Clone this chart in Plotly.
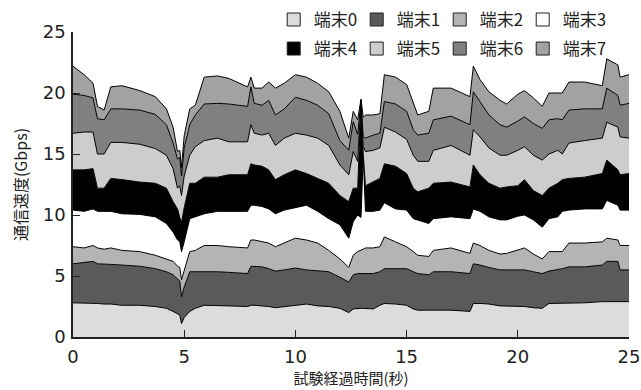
import plotly.graph_objects as go

# time (s)
t_sec = [0.0, 0.5, 0.9, 1.1, 1.4, 1.7, 2.2, 3.0, 3.7, 4.2, 4.5, 4.7, 4.8, 4.88, 5.0, 5.25, 5.5,
         5.9, 6.5, 7.0, 7.85, 8.0, 8.15, 8.5, 8.8, 9.1, 9.5, 10.0, 10.5, 11.0, 11.5, 12.0,
         12.4, 12.6, 12.8, 12.95, 13.05, 13.15, 13.5, 13.8, 14.0, 14.5, 15.0, 15.3, 15.5,
         16.0, 16.2, 17.0, 17.85, 18.0, 18.3, 18.7, 19.2, 19.5, 20.0, 20.3, 20.7, 21.1,
         21.4, 21.8, 22.0, 22.3, 23.0, 23.8, 24.0, 24.5, 24.6, 25.0]

term0 = [2.8, 2.8, 2.8, 2.75, 2.7, 2.7, 2.6, 2.6, 2.5, 2.35, 2.1, 1.9, 1.8, 1.1, 1.6, 2.1, 2.35,
         2.6, 2.6, 2.55, 2.5, 2.6, 2.6, 2.55, 2.5, 2.4, 2.5, 2.6, 2.7, 2.55, 2.5, 2.35,
         2.0, 2.3, 2.35, 2.35, 2.35, 2.35, 2.3, 2.6, 2.75, 2.7, 2.6, 2.3, 2.2,
         2.2, 2.2, 2.2, 2.1, 2.75, 2.75, 2.7, 2.55, 2.55, 2.5, 2.5, 2.4, 2.35,
         2.75, 2.75, 2.75, 2.75, 2.8, 2.9, 2.9, 2.9, 2.9, 2.9]
term1 = [3.2, 3.3, 3.4, 3.25, 3.25, 3.25, 3.3, 3.2, 3.1, 3.0, 3.0, 2.9, 2.8, 2.2, 2.5, 3.25, 3.0,
         2.8, 2.75, 2.75, 2.7, 3.2, 3.2, 3.2, 3.1, 3.0, 3.0, 3.05, 2.8, 2.85, 2.85, 2.55,
         2.5, 2.8, 2.85, 2.85, 2.85, 2.85, 2.9, 2.75, 2.85, 2.9, 3.0, 3.05, 3.0,
         2.9, 3.15, 3.15, 3.1, 3.25, 3.15, 3.0, 2.95, 2.95, 3.0, 3.0, 2.95, 2.85,
         2.65, 2.75, 2.85, 3.0, 2.95, 3.0, 3.3, 3.3, 2.6, 2.6]
term2 = [1.4, 1.2, 1.3, 1.3, 1.25, 1.35, 1.2, 1.2, 1.1, 1.05, 1.1, 1.0, 1.1, 1.4, 1.3, 1.65, 1.75,
         2.1, 2.15, 2.1, 2.1, 2.15, 2.15, 2.05, 2.1, 2.0, 2.2, 2.45, 2.45, 2.3, 1.75, 1.5,
         1.2, 1.6, 1.8, 1.9, 2.0, 2.1, 2.1, 2.05, 2.6, 2.2, 1.8, 1.65, 1.5,
         1.5, 1.75, 1.95, 1.65, 1.7, 1.6, 1.4, 1.3, 1.35, 1.6, 1.8, 1.45, 1.2,
         1.6, 1.5, 1.4, 1.95, 1.95, 1.9, 1.9, 1.75, 2.0, 2.0]
term3 = [3.0, 3.0, 3.0, 3.0, 3.1, 3.0, 3.0, 3.05, 3.15, 2.9, 2.4, 2.15, 2.1, 2.3, 2.4, 2.7, 2.75,
         2.6, 2.8, 2.9, 3.0, 2.85, 2.85, 2.9, 2.8, 2.7, 2.7, 2.5, 2.85, 2.6, 2.6, 2.8,
         2.4, 2.75, 3.0, 2.7, 7.6, 3.0, 3.0, 3.0, 2.8, 2.7, 3.0, 2.7, 2.9,
         2.7, 2.6, 2.55, 2.85, 2.8, 2.8, 2.75, 2.8, 2.75, 2.8, 2.7, 2.8, 2.6,
         2.7, 2.85, 3.3, 2.7, 2.8, 2.7, 3.1, 2.85, 2.9, 2.9]
term4 = [3.3, 3.4, 3.3, 1.9, 1.9, 2.7, 2.8, 2.65, 2.75, 2.9, 2.5, 2.55, 2.0, 2.4, 2.8, 2.9, 2.75,
         3.0, 2.8, 3.0, 3.0, 3.4, 3.3, 3.3, 3.2, 2.8, 2.9, 3.1, 2.6, 2.7, 2.9, 2.4,
         3.0, 2.75, 2.2, 9.4, 0.2, 2.1, 2.4, 2.6, 3.2, 3.5, 3.0, 2.5, 2.3,
         2.9, 2.9, 2.85, 2.6, 3.6, 3.0, 2.75, 2.6, 2.7, 2.5, 2.9, 2.4, 2.6,
         2.5, 2.75, 2.6, 2.6, 2.6, 2.9, 3.3, 2.9, 2.9, 3.0]
term5 = [3.0, 3.1, 3.0, 2.8, 2.8, 2.95, 3.05, 3.1, 2.85, 2.7, 2.7, 1.7, 2.6, 2.2, 2.6, 2.3, 3.0,
         3.0, 3.2, 2.7, 2.7, 3.2, 2.6, 2.55, 3.0, 2.8, 3.0, 3.0, 3.15, 3.3, 3.1, 2.5,
         2.2, 3.0, 2.2, 0.1, 0.6, 2.8, 2.6, 2.5, 3.0, 2.8, 2.8, 2.7, 2.5,
         2.2, 2.7, 3.0, 2.6, 2.9, 3.1, 2.9, 2.7, 2.6, 2.9, 2.7, 2.9, 2.9,
         2.8, 2.7, 2.1, 2.9, 3.0, 2.9, 3.1, 3.5, 3.1, 2.9]
term6 = [3.2, 3.0, 2.8, 2.9, 2.8, 2.75, 2.75, 2.8, 2.8, 2.5, 2.1, 2.4, 2.3, 1.6, 2.3, 2.5, 2.6,
         3.0, 2.85, 3.1, 2.9, 3.1, 2.45, 2.45, 2.7, 2.5, 2.4, 2.95, 2.85, 2.7, 2.6, 2.0,
         2.0, 2.45, 2.2, 0.1, 0.8, 1.1, 1.25, 1.2, 2.1, 2.3, 2.3, 2.1, 2.15,
         2.3, 2.5, 2.4, 2.5, 3.1, 2.9, 2.7, 2.5, 2.3, 2.4, 2.45, 2.6, 2.6,
         2.8, 2.6, 2.8, 2.7, 2.6, 2.4, 2.8, 2.6, 2.6, 2.85]
term7 = [2.3, 1.7, 1.2, 1.0, 0.8, 1.8, 1.9, 1.6, 1.45, 1.3, 1.3, 0.6, 0.6, 0.7, 1.0, 1.3, 0.8,
         2.2, 2.25, 2.1, 1.6, 0.8, 1.25, 1.4, 1.5, 2.2, 2.1, 1.85, 1.9, 1.8, 1.8, 2.4,
         1.0, 0.85, 1.2, 0.1, 1.6, 1.9, 1.65, 1.6, 2.2, 2.2, 2.2, 2.3, 1.65,
         1.8, 2.6, 2.3, 2.3, 2.1, 1.8, 1.9, 2.0, 1.9, 2.2, 2.15, 2.1, 1.8,
         2.2, 2.1, 2.2, 2.3, 2.2, 1.9, 2.4, 2.5, 2.3, 2.35]

series_names = ["端末0", "端末1", "端末2", "端末3", "端末4", "端末5", "端末6", "端末7"]
series_colors = ["#dcdcdc", "#5a5a5a", "#b4b4b4", "#ffffff", "#000000", "#cdcdcd", "#808080", "#a2a2a2"]
series_values = [term0, term1, term2, term3, term4, term5, term6, term7]

x_ticks = [0, 5, 10, 15, 20, 25]
y_ticks = [0, 5, 10, 15, 20, 25]

JP = "Noto Sans CJK JP"
NUM = "DejaVu Sans"

fig = go.Figure()
for name, vals, col in zip(series_names, series_values, series_colors):
    fig.add_trace(go.Scatter(
        x=t_sec, y=vals, name=name, stackgroup="one", mode="lines",
        line=dict(color="black", width=1), fillcolor=col, showlegend=False,
        hoverinfo="skip"))

for i, (name, col) in enumerate(zip(series_names, series_colors)):
    fig.add_trace(go.Scatter(
        x=[None], y=[None], name=name, mode="markers",
        marker=dict(symbol="square", size=13, color=col, line=dict(color="#222", width=1)),
        legend="legend" if i < 4 else "legend2"))

legend_common = dict(orientation="h", xref="container", yref="container",
                     xanchor="left", yanchor="top", bgcolor="rgba(0,0,0,0)",
                     traceorder="normal",
                     font=dict(family=JP, size=17, color="#222"),
                     itemwidth=30, entrywidth=38, tracegroupgap=0)

fig.update_layout(
    width=641, height=390,
    margin=dict(l=73, r=12, t=32, b=53, autoexpand=False),
    paper_bgcolor="white", plot_bgcolor="white",
    font=dict(family=JP, color="#222"),
    legend=dict(x=0.427, y=0.995, **legend_common),
    legend2=dict(x=0.427, y=0.9205, **legend_common),
    xaxis=dict(range=[0, 25], tickvals=x_ticks, ticks="inside", ticklen=7,
               tickcolor="#222", showline=True, linecolor="#222", linewidth=1.5,
               showgrid=False, zeroline=False, ticklabelstandoff=3,
               tickfont=dict(family=NUM, size=18),
               title=dict(text="試験経過時間(秒)", font=dict(family=JP, size=15), standoff=4)),
    yaxis=dict(range=[0, 25], tickvals=y_ticks, ticks="inside", ticklen=7,
               tickcolor="#222", showline=True, linecolor="#222", linewidth=1.5,
               showgrid=False, zeroline=False, ticklabelstandoff=2,
               tickfont=dict(family=NUM, size=18),
               title=dict(text="通信速度(Gbps)", font=dict(family=JP, size=16), standoff=11)),
)

fig.write_html("out.html",
               config={"displayModeBar": False},
               post_script="document.body.style.margin='0';document.body.style.overflow='hidden';")
